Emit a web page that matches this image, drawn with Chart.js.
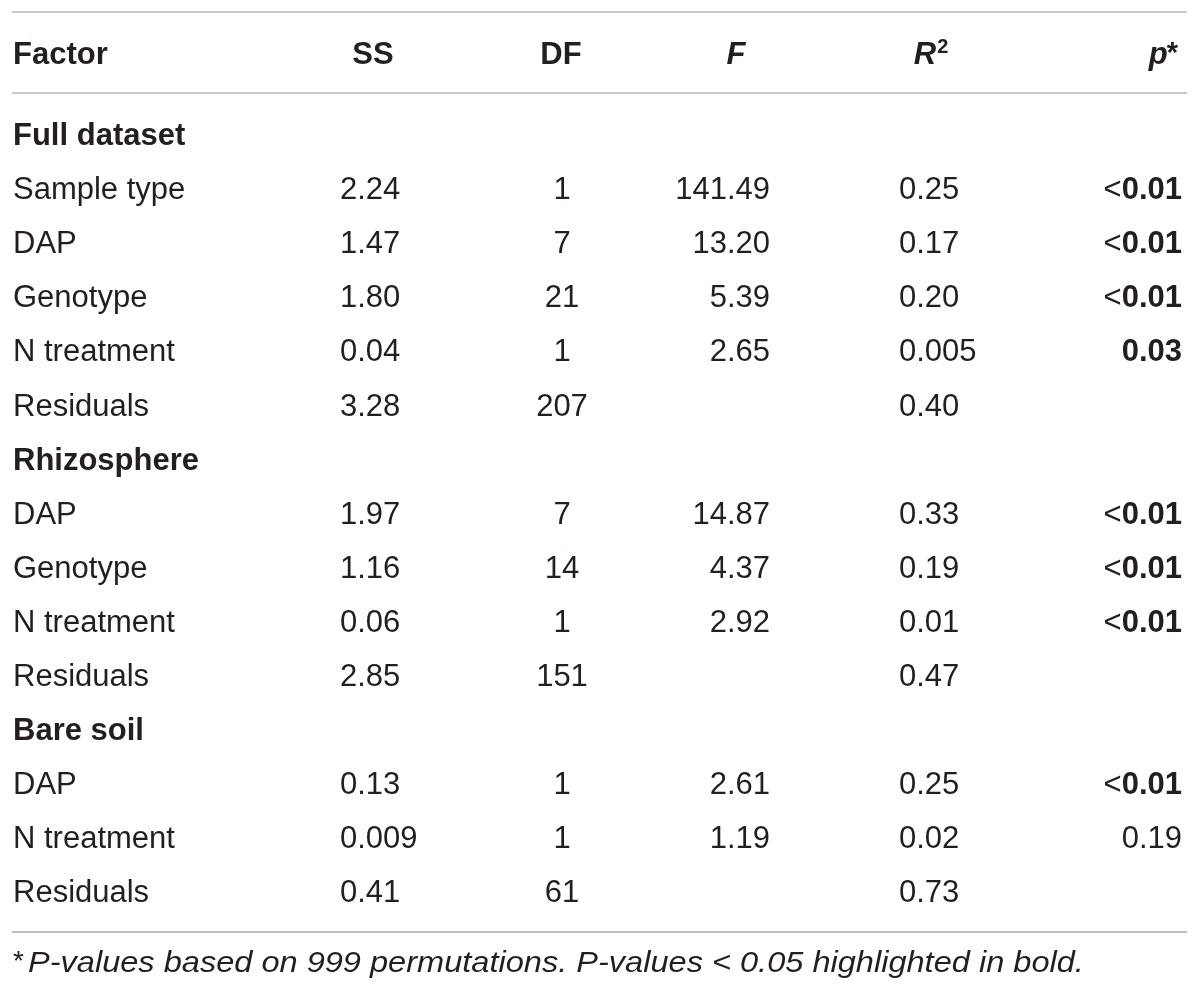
<!DOCTYPE html>
<html>
<head>
<meta charset="utf-8">
<script src="https://cdn.jsdelivr.net/npm/chart.js@4.4.1/dist/chart.umd.min.js"></script>
<style>
  html, body { margin: 0; padding: 0; background: #fff; }
  #wrap { width: 1200px; height: 994px; }
</style>
</head>
<body>
<div id="wrap"><canvas id="tbl" width="1200" height="994"></canvas></div>
<script>
// table contents
const headers = ['Factor', 'SS', 'DF', 'F', 'R', 'p'];
const sections = ['Full dataset', 'Rhizosphere', 'Bare soil'];
const sectionSizes = [5, 4, 3];
const factors = ['Sample type', 'DAP', 'Genotype', 'N treatment', 'Residuals',
                 'DAP', 'Genotype', 'N treatment', 'Residuals',
                 'DAP', 'N treatment', 'Residuals'];
const ssValues = ['2.24', '1.47', '1.80', '0.04', '3.28',
                  '1.97', '1.16', '0.06', '2.85',
                  '0.13', '0.009', '0.41'];
const dfValues = ['1', '7', '21', '1', '207',
                  '7', '14', '1', '151',
                  '1', '1', '61'];
const fValues = ['141.49', '13.20', '5.39', '2.65', '',
                 '14.87', '4.37', '2.92', '',
                 '2.61', '1.19', ''];
const r2Values = ['0.25', '0.17', '0.20', '0.005', '0.40',
                  '0.33', '0.19', '0.01', '0.47',
                  '0.25', '0.02', '0.73'];
const pValues = ['<0.01', '<0.01', '<0.01', '0.03', '',
                 '<0.01', '<0.01', '<0.01', '',
                 '<0.01', '0.19', ''];
const footnote = 'P-values based on 999 permutations. P-values < 0.05 highlighted in bold.';

// flatten into display rows
const rows = [];
let k = 0;
sections.forEach((s, si) => {
  rows.push({ section: s });
  for (let j = 0; j < sectionSizes[si]; j++, k++) {
    rows.push({ cells: [factors[k], ssValues[k], dfValues[k], fValues[k], r2Values[k], pValues[k]] });
  }
});

const FONT = "'Liberation Sans', Arial, Helvetica, sans-serif";
const INK = '#231f20';
const FS = 31;
// row index positions on the y scale (header, rules, footnote)
const Y_HEADER = -1.506, Y_TOP = -2.255, Y_MID = -0.758, Y_BOT = 14.75, Y_NOTE = 15.29;

// column anchors on the x scale: [x, align]
const cols = [[13, 'left'], [340, 'left'], [562, 'center'], [770, 'right'], [899, 'left'], [1182, 'right']];
const headCols = [[13, 'left'], [373, 'center'], [561, 'center'], [736, 'center'], [931, 'center'], [1178, 'right']];

function isBold(p) {
  if (!p) return false;
  const v = parseFloat(p.replace('<', ''));
  return v < 0.05;
}

const tablePlugin = {
  id: 'tablePlugin',
  afterDraw(chart) {
    const ctx = chart.ctx;
    const xs = chart.scales.x, ys = chart.scales.y;
    const base = (row, fs) => ys.getPixelForValue(row) + 0.358 * fs;
    ctx.save();
    ctx.fillStyle = INK;
    ctx.textBaseline = 'alphabetic';

    // rules
    const rule = (row, color, w) => {
      ctx.strokeStyle = color;
      ctx.lineWidth = w;
      ctx.beginPath();
      const y = ys.getPixelForValue(row);
      ctx.moveTo(xs.getPixelForValue(12), y);
      ctx.lineTo(xs.getPixelForValue(1187), y);
      ctx.stroke();
    };
    rule(Y_TOP, '#c9c9c9', 2);
    rule(Y_MID, '#c9c9c9', 2);
    rule(Y_BOT, '#a8a8a8', 1.6);

    // header
    const hy = base(Y_HEADER, FS);
    headers.forEach((h, i) => {
      const [hx, al] = headCols[i];
      const px = xs.getPixelForValue(hx);
      const italic = (i >= 3);
      const f = (italic ? 'italic ' : '') + 'bold ' + FS + 'px ' + FONT;
      if (i === 4) {
        ctx.font = f;
        const w1 = ctx.measureText(h).width;
        ctx.font = 'bold 20px ' + FONT;
        const w2 = ctx.measureText('2').width;
        const x0 = px - (w1 + w2 + 1) / 2;
        ctx.textAlign = 'left';
        ctx.font = f;
        ctx.fillText(h, x0, hy);
        ctx.font = 'bold 20px ' + FONT;
        ctx.fillText('2', x0 + w1 + 1, hy - 11);
      } else if (i === 5) {
        ctx.font = 'bold 29px ' + FONT;
        const wa = ctx.measureText('*').width;
        ctx.textAlign = 'right';
        ctx.fillText('*', px, hy - 2);
        ctx.font = f;
        ctx.fillText(h, px - wa + 1, hy);
      } else {
        ctx.font = f;
        ctx.textAlign = al;
        ctx.fillText(h, px, hy);
      }
    });

    // body rows
    rows.forEach((r, ri) => {
      const y = base(ri, FS);
      if (r.section) {
        ctx.font = 'bold ' + FS + 'px ' + FONT;
        ctx.textAlign = 'left';
        ctx.fillText(r.section, xs.getPixelForValue(cols[0][0]), y);
        return;
      }
      r.cells.forEach((c, ci) => {
        if (!c) return;
        const [cx, al] = cols[ci];
        const px = xs.getPixelForValue(cx);
        if (ci === 5 && isBold(c)) {
          const num = c.replace('<', '');
          ctx.font = 'bold ' + FS + 'px ' + FONT;
          ctx.textAlign = 'right';
          ctx.fillText(num, px, y);
          if (c.startsWith('<')) {
            const w = ctx.measureText(num).width;
            ctx.font = FS + 'px ' + FONT;
            ctx.fillText('<', px - w, y);
          }
          return;
        }
        ctx.font = FS + 'px ' + FONT;
        ctx.textAlign = al;
        ctx.fillText(c, px, y);
      });
    });

    // footnote, slightly widened to match the reference face
    const ny = base(Y_NOTE, 30);
    ctx.textAlign = 'left';
    ctx.font = '28px ' + FONT;
    ctx.fillText('*', xs.getPixelForValue(13), ny - 2);
    ctx.translate(xs.getPixelForValue(28), ny);
    ctx.scale(1.085, 1);
    ctx.font = 'italic 30px ' + FONT;
    ctx.fillText(footnote, 0, 0);
    ctx.restore();
  }
};

new Chart(document.getElementById('tbl'), {
  type: 'scatter',
  data: { datasets: [{ data: [], pointRadius: 0 }] },
  options: {
    responsive: false,
    animation: false,
    devicePixelRatio: 1,
    layout: { padding: 0 },
    plugins: { legend: { display: false }, tooltip: { enabled: false } },
    scales: {
      x: { type: 'linear', min: 0, max: 1200, display: false },
      y: { type: 'linear', min: -134 / 54.1, max: (994 - 134) / 54.1, reverse: true, display: false }
    }
  },
  plugins: [tablePlugin]
});
</script>
</body>
</html>
